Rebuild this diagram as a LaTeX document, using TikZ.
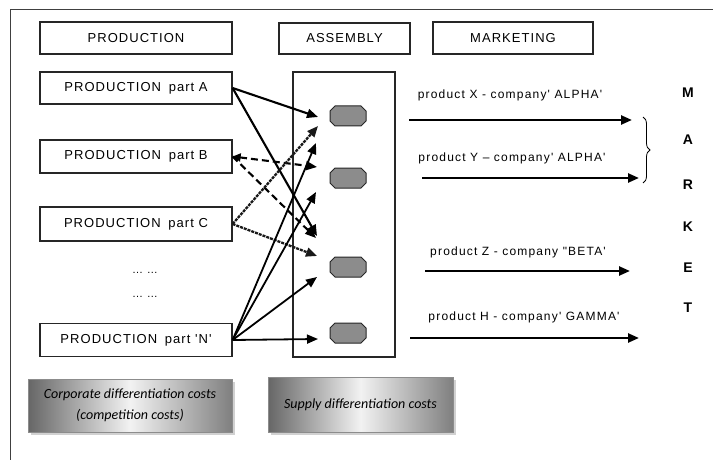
\documentclass[tikz,border=0pt]{standalone}
\usepackage{fontspec}
\setmainfont{Liberation Sans}
\newfontfamily\boxfont[LetterSpace=8]{Liberation Sans}
\newfontfamily\labfont[LetterSpace=10]{Liberation Sans}
\newfontfamily\costfont{Carlito}
\usetikzlibrary{arrows.meta,decorations.pathreplacing}

\begin{document}
\begin{tikzpicture}[x=1pt,y=-1pt,
  stagebox/.style={draw=black!85, line width=1.2pt, minimum width=192pt,
    minimum height=32pt, inner sep=0pt, font=\boxfont\fontsize{13}{15}\selectfont},
  unitspot/.style={inner sep=0pt, minimum width=36pt, minimum height=20pt},
  octagon/.style={draw=black!85, line width=1pt, fill=black!45},
  tip/.style={-{Triangle[length=11pt,width=9pt]}},
  flow/.style={line width=2.1pt, tip},
  flowB/.style={line width=2.1pt, dash pattern=on 7pt off 4pt, tip},
  flowC/.style={line width=2.3pt, dash pattern=on 3pt off 1pt, black!90, tip},
  flowN/.style={line width=1.8pt, tip},
  outflow/.style={line width=2.4pt, tip},
  prodlabel/.style={font=\labfont\fontsize{12}{14}\selectfont, inner sep=0pt},
  letter/.style={font=\bfseries\fontsize{14}{16}\selectfont, inner sep=0pt},
  costbox/.style={draw=black!45, line width=0.8pt, inner sep=0pt,
    shading=axis, left color=black!60, right color=black!50, middle color=black!5,
    font=\costfont\itshape\fontsize{14}{21}\selectfont, align=center},
  costshadow/.style={fill=black!18, draw=none}
]
\useasboundingbox (0,0) rectangle (713,460);

% page frame
\draw[line width=1pt, black!75] (713,10) -- (10,10) -- (10,460);

% headers
\node[stagebox] (prodH) at (136,38) {PRODUCTION};
\node[stagebox, minimum width=131pt, minimum height=31pt] (asmH) at (344.5,38.5) {ASSEMBLY};
\node[stagebox, minimum width=160pt] (mktH) at (513,38) {MARKETING};

% production parts
\node[stagebox] (pA) at (136,88) {PRODUCTION\hspace{3pt} part A};
\node[stagebox, minimum height=33pt] (pB) at (136,156.5) {PRODUCTION\hspace{3pt} part B};
\node[stagebox, minimum height=34pt] (pC) at (136,224) {PRODUCTION\hspace{3pt} part C};
\node[stagebox, minimum height=33pt] (pN) at (136,340) {PRODUCTION\hspace{3pt} part 'N'};
\node[font=\boxfont\fontsize{11}{13}\selectfont, inner sep=0pt] (dots1) at (145,273) {\dots\ \dots};
\node[font=\boxfont\fontsize{11}{13}\selectfont, inner sep=0pt] (dots2) at (145,297) {\dots\ \dots};

% assembly frame and units
\node[draw=black!85, line width=1.2pt, minimum width=102pt, minimum height=285pt,
  inner sep=0pt] (asm) at (344,214.5) {};
\node[unitspot] (u1) at (348,116) {};
\node[unitspot] (u2) at (348,178) {};
\node[unitspot] (u3) at (348,267) {};
\node[unitspot] (u4) at (348,333) {};
\foreach \u in {u1,u2,u3,u4}
  \filldraw[octagon] (\u) ++(-18,-5) -- ++(0,10) -- ++(5,5) -- ++(26,0)
    -- ++(5,-5) -- ++(0,-10) -- ++(-5,-5) -- ++(-26,0) -- cycle;

% arrow ends in front of the units
\coordinate (a1) at (318,117);
\coordinate (a2) at (317,236);
\coordinate (b1) at (317,167);
\coordinate (b2) at (316,238);
\coordinate (c1) at (318,126);
\coordinate (c2) at (317,256);
\coordinate (n1) at (316,143);
\coordinate (n2) at (316,192);
\coordinate (n3) at (317,277);
\coordinate (n4) at (318,339);

% supply links
\draw[flow] (pA.east) -- (a1);
\draw[flow] (pA.east) -- (a2);
\draw[flowB, {Triangle[length=8pt,width=8pt]}-{Triangle[length=11pt,width=9pt]}] (pB.east) -- (b1);
\draw[flowB] (pB.east) -- (b2);
\draw[flowC] (pC.east) -- (c1);
\draw[flowC] (pC.east) -- (c2);
\draw[flowN] (pN.east) -- (n1);
\draw[flowN] (pN.east) -- (n2);
\draw[flowN] (pN.east) -- (n3);
\draw[flowN] (pN.east) -- (n4);

% products to market
\coordinate (xs) at (409,120); \coordinate (xe) at (632,120);
\coordinate (ys) at (422,178); \coordinate (ye) at (639,178);
\coordinate (zs) at (425,271); \coordinate (ze) at (630,271);
\coordinate (hs) at (410,338); \coordinate (he) at (639,338);
\draw[outflow] (xs) -- (xe);
\draw[outflow] (ys) -- (ye);
\draw[outflow] (zs) -- (ze);
\draw[outflow] (hs) -- (he);
\node[prodlabel] (lx) at (510,95) {product X - company' ALPHA'};
\node[prodlabel] (ly) at (512,158) {product Y – company' ALPHA'};
\node[prodlabel] (lz) at (518,252) {product Z - company "BETA'};
\node[prodlabel] (lh) at (524,317) {product H - company' GAMMA'};

% brace grouping X and Y
\coordinate (br1) at (643,117);
\coordinate (br2) at (643,183);
\draw[line width=0.8pt, decorate, decoration={brace, amplitude=7pt}] (br1) -- (br2);

% MARKET
\node[letter] (mM) at (688,93) {M};
\node[letter] (mA) at (688,140) {A};
\node[letter] (mR) at (688,185) {R};
\node[letter] (mK) at (688,227) {K};
\node[letter] (mE) at (688,268) {E};
\node[letter] (mT) at (688,308) {T};

% cost boxes
\fill[costshadow] (31,382) rectangle (235,435);
\fill[costshadow] (271,380) rectangle (456,435);
\node[costbox, minimum width=204pt, minimum height=53pt] (corp) at (130,405.5)
  {Corporate differentiation costs\\(competition costs)};
\node[costbox, minimum width=185pt, minimum height=55pt] (supply) at (360.5,404.5)
  {Supply differentiation costs};
\end{tikzpicture}
\end{document}
